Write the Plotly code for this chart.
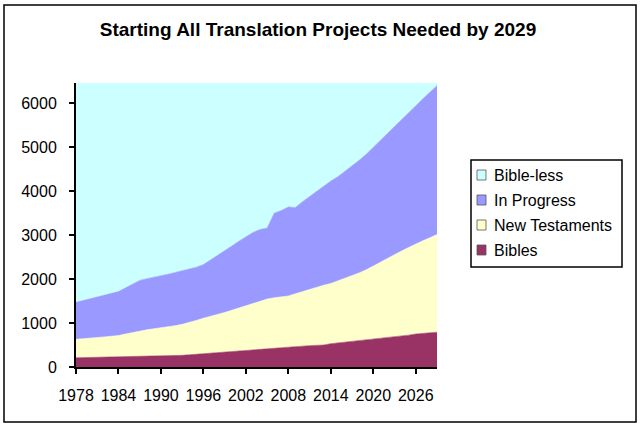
import plotly.graph_objects as go

# Yearly values (stacked area, bottom to top)
years = list(range(1978, 2030))

bibles = [
    210, 213, 217, 221, 225, 230, 235, 238, 242, 246,
    249, 252, 255, 256, 257, 265, 277, 288, 300, 314,
    328, 342, 356, 368, 380, 390, 400, 412, 425, 438,
    455, 464, 474, 485, 492, 500, 530, 547, 560, 580,
    600, 618, 637, 645, 665, 690, 700, 725, 750, 765,
    785, 792,
]

new_testaments = [
    420, 427, 438, 449, 460, 470, 480, 512, 543, 569,
    596, 618, 635, 659, 683, 705, 733, 772, 810, 836,
    867, 898, 934, 972, 1015, 1060, 1100, 1133, 1150, 1157,
    1160, 1201, 1241, 1280, 1328, 1360, 1370, 1413, 1455, 1485,
    1540, 1592, 1653, 1735, 1805, 1870, 1940, 1995, 2050, 2105,
    2155, 2223,
]

in_progress = [
    840, 870, 895, 920, 950, 975, 1000, 1050, 1105, 1155,
    1165, 1170, 1185, 1195, 1210, 1220, 1220, 1210, 1220, 1280,
    1335, 1400, 1460, 1520, 1565, 1610, 1630, 1615, 1925, 1965,
    2025, 1965, 2045, 2115, 2180, 2250, 2330, 2370, 2435, 2495,
    2560, 2630, 2700, 2760, 2840, 2910, 2980, 3050, 3140, 3230,
    3310, 3385,
]

bible_less = [
    4990, 4950, 4910, 4870, 4825, 4785, 4745, 4660, 4570, 4490,
    4450, 4420, 4385, 4350, 4310, 4270, 4230, 4190, 4130, 4030,
    3930, 3820, 3710, 3600, 3500, 3400, 3330, 3300, 2960, 2900,
    2820, 2830, 2700, 2580, 2460, 2350, 2230, 2130, 2010, 1900,
    1760, 1620, 1470, 1320, 1150, 990, 840, 690, 520, 360,
    210, 60,
]

tick_years = list(range(1978, 2030, 6))
y_ticks = list(range(0, 7000, 1000))

series = [
    ("Bibles", bibles, "#993366"),
    ("New Testaments", new_testaments, "#FFFFCC"),
    ("In Progress", in_progress, "#9999FF"),
    ("Bible-less", bible_less, "#CCFFFF"),
]

fig = go.Figure()
for name, values, color in series:
    fig.add_trace(go.Scatter(
        x=years, y=values, name=name, mode="lines",
        stackgroup="one", fillcolor=color,
        line=dict(width=0.6, color=color),
        showlegend=False,
    ))

# plot area in pixels: x 76..437, y 83..367
L, R, T, B = 76, 203, 83, 60
W, H = 640, 427
pw, ph = W - L - R, H - T - B


def px(x):
    return (x - L) / pw


def py(y):
    return (H - B - y) / ph


fig.update_layout(
    width=W, height=H,
    margin=dict(l=L, r=R, t=T, b=B),
    paper_bgcolor="white", plot_bgcolor="white",
    font=dict(family="Arial, Liberation Sans", size=16, color="black"),
    title=dict(
        text="<b>Starting All Translation Projects Needed by 2029</b>",
        x=318 / W, xanchor="center", y=1 - 29 / H, yanchor="middle",
        font=dict(size=19),
    ),
    showlegend=False,
    xaxis=dict(
        range=[1978, 2029], tickvals=tick_years,
        showgrid=False, zeroline=False,
        showline=True, linecolor="black", linewidth=2,
        ticks="outside", ticklen=5, tickwidth=2, tickcolor="black",
        ticklabelstandoff=8,
    ),
    yaxis=dict(
        range=[0, 6460], tickvals=y_ticks,
        showgrid=False, zeroline=False,
        showline=True, linecolor="black", linewidth=2,
        ticks="outside", ticklen=5, tickwidth=2, tickcolor="black",
        ticklabelstandoff=9,
    ),
)

# outer frame round the whole chart
fig.add_shape(
    type="rect", xref="paper", yref="paper",
    x0=px(4), x1=px(636), y0=py(422), y1=py(5),
    line=dict(color="black", width=1.5), layer="below",
)

# legend drawn by hand: framed box, small swatches, labels (top to bottom)
fig.add_shape(
    type="rect", xref="paper", yref="paper",
    x0=px(471), x1=px(622), y0=py(267), y1=py(160),
    line=dict(color="black", width=1.5), fillcolor="white",
)
row_y = [175, 200, 225, 250]
for (name, _, color), yc in zip(reversed(series), row_y):
    fig.add_shape(
        type="rect", xref="paper", yref="paper",
        x0=px(477), x1=px(486), y0=py(yc + 5), y1=py(yc - 5),
        line=dict(color="#555555", width=0.8), fillcolor=color,
    )
    fig.add_annotation(
        x=px(492), y=py(yc), xref="paper", yref="paper",
        text=name, showarrow=False, xanchor="left", yanchor="middle",
        font=dict(size=16),
    )

fig.write_html(
    "out.html",
    config={"displayModeBar": False},
    post_script="document.body.style.margin='0';document.body.style.overflow='hidden';",
)
